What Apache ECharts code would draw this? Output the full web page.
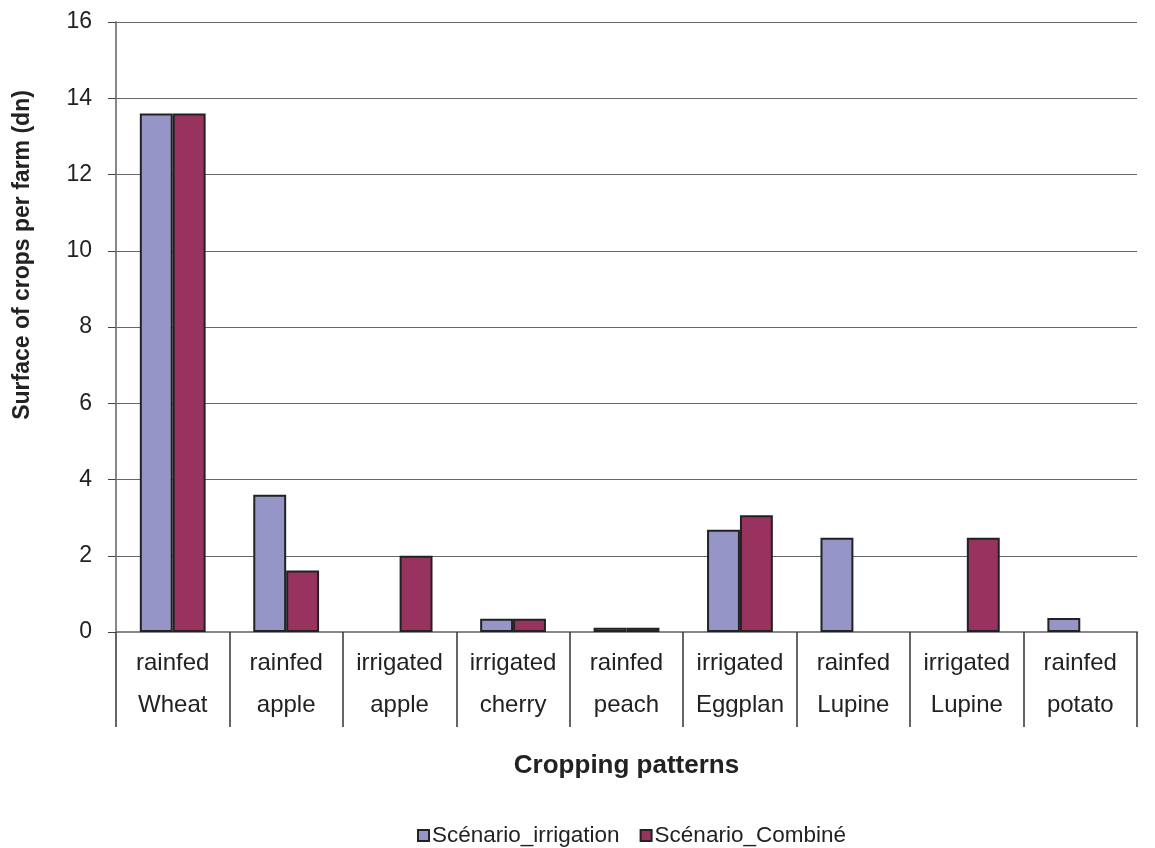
<!DOCTYPE html>
<html>
<head>
<meta charset="utf-8">
<script src="https://cdn.jsdelivr.net/npm/echarts@6/dist/echarts.min.js"></script>
<style>
  html, body { margin: 0; padding: 0; background: #fff; }
  #chart { width: 1155px; height: 848px; }
</style>
</head>
<body>
<div id="chart"></div>
<script>
// cropping patterns (two-line labels)
const categories = [
  'rainfed\nWheat', 'rainfed\napple', 'irrigated\napple', 'irrigated\ncherry',
  'rainfed\npeach', 'irrigated\nEggplan', 'rainfed\nLupine', 'irrigated\nLupine', 'rainfed\npotato'
]
const seriesNames = ['Scénario_irrigation', 'Scénario_Combiné']
// null = no bar for that pattern
const irrigationValues = [13.6, 3.6, null, 0.35, 0.11, 2.68, 2.47, null, 0.37]
const combineValues = [13.6, 1.61, 2.0, 0.35, 0.11, 3.06, null, 2.47, null]
const yTicks = { min: 0, max: 16, interval: 2 }

const font = 'Liberation Sans, Arial, sans-serif'
const chart = echarts.init(document.getElementById('chart'))

const option = {
  backgroundColor: '#fff',
  animation: false,
  color: ['#9595C8', '#98325F'],
  textStyle: { fontFamily: font },
  grid: { left: 116, right: 18, top: 22, bottom: 216 },
  // y axis title sits a bit above the axis centre in the original
  graphic: [
    {
      type: 'text',
      x: 23,
      y: 255,
      rotation: Math.PI / 2,
      style: {
        text: 'Surface of crops per farm (dn)',
        fill: '#222',
        font: 'bold 23px Liberation Sans, Arial, sans-serif',
        textAlign: 'center',
        textVerticalAlign: 'middle'
      }
    }
  ],
  legend: {
    top: 819,
    left: 412,
    icon: 'rect',
    itemWidth: 11,
    itemHeight: 11,
    itemGap: 20,
    textStyle: { fontSize: 22.5, color: '#222', fontFamily: font, padding: [0, 0, 0, -2] },
    itemStyle: { borderColor: '#222', borderWidth: 2 },
    data: seriesNames
  },
  xAxis: {
    type: 'category',
    data: categories,
    name: 'Cropping patterns',
    nameLocation: 'middle',
    nameGap: 121,
    nameTextStyle: { fontSize: 26, fontWeight: 'bold', color: '#222', fontFamily: font },
    axisLine: { lineStyle: { color: '#888', width: 2 } },
    axisTick: { show: true, length: 95, lineStyle: { color: '#333', width: 1.5 } },
    axisLabel: {
      interval: 0,
      margin: 10,
      fontSize: 24,
      lineHeight: 42,
      color: '#222',
      fontFamily: font
    }
  },
  yAxis: {
    type: 'value',
    min: yTicks.min,
    max: yTicks.max,
    interval: yTicks.interval,
    axisLine: { show: true, lineStyle: { color: '#888', width: 2 } },
    axisTick: { show: true, length: 8, lineStyle: { color: '#444', width: 1 } },
    axisLabel: { margin: 24, fontSize: 23, color: '#222', fontFamily: font },
    splitLine: { show: true, lineStyle: { color: '#666', width: 1.2 } }
  },
  series: [
    {
      name: seriesNames[0],
      type: 'bar',
      data: irrigationValues,
      barGap: '0%',
      barCategoryGap: '42%',
      itemStyle: { borderColor: '#222', borderWidth: 2 }
    },
    {
      name: seriesNames[1],
      type: 'bar',
      data: combineValues,
      barGap: '0%',
      barCategoryGap: '42%',
      itemStyle: { borderColor: '#222', borderWidth: 2 }
    }
  ]
}

chart.setOption(option)
window.addEventListener('resize', () => chart.resize())
</script>
</body>
</html>
